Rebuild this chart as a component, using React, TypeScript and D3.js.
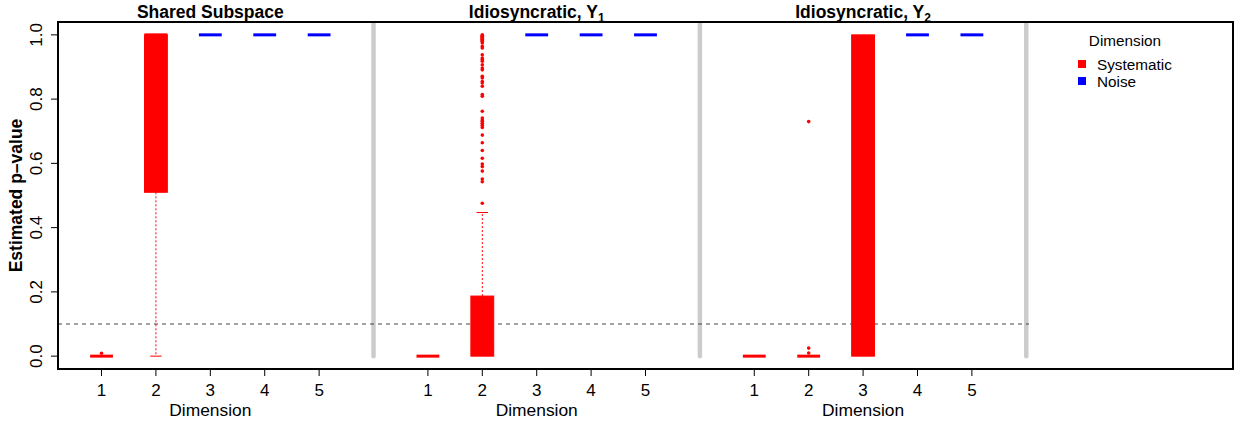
import React from 'react';
import * as d3 from 'd3';

const width = 1235;
const height = 425;
const margin = { top: 22, right: 2, bottom: 56, left: 58 };

const dims = [1, 2, 3, 4, 5];
const panelTitles = ['Shared Subspace', 'Idiosyncratic, Y', 'Idiosyncratic, Y'];
const panelSubs = ['', '1', '2'];
const systematicCount = [2, 2, 3];
const yTicks = [0, 0.2, 0.4, 0.6, 0.8, 1.0];
const threshold = 0.1;

// [lower whisker, Q1, median, Q3, upper whisker] per dimension
const sharedStats = [
  [0, 0, 0, 0, 0],
  [0, 0.51, 1, 1, 1],
  [1, 1, 1, 1, 1],
  [1, 1, 1, 1, 1],
  [1, 1, 1, 1, 1],
];
const y1Stats = [
  [0, 0, 0, 0, 0],
  [0, 0, 0.02, 0.187, 0.447],
  [1, 1, 1, 1, 1],
  [1, 1, 1, 1, 1],
  [1, 1, 1, 1, 1],
];
const y2Stats = [
  [0, 0, 0, 0, 0],
  [0, 0, 0, 0, 0],
  [0, 0, 0.99, 1, 1],
  [1, 1, 1, 1, 1],
  [1, 1, 1, 1, 1],
];

const sharedOutliers = [[0.009], [], [], [], []];
const y1Outliers = [
  [],
  [1.0, 0.998, 0.996, 0.994, 0.992, 0.99, 0.988, 0.986, 0.984, 0.982, 0.98, 0.975,
    0.964, 0.959, 0.938, 0.928, 0.923, 0.918, 0.907, 0.897, 0.891, 0.871, 0.866,
    0.855, 0.85, 0.84, 0.814, 0.809, 0.762, 0.741, 0.735, 0.731, 0.725, 0.719,
    0.712, 0.688, 0.664, 0.64, 0.616, 0.598, 0.59, 0.576, 0.551, 0.543, 0.476],
  [],
  [],
  [],
];
const y2Outliers = [[], [0.73, 0.025, 0.01], [], [], []];

const panelStats = [sharedStats, y1Stats, y2Stats];
const panelOutliers = [sharedOutliers, y1Outliers, y2Outliers];

const font = 'Liberation Sans, Arial, Helvetica, sans-serif';
const boxHalf = 0.21;

const App = () => {
  const { top, right, bottom, left } = margin;
  const x = d3.scaleLinear().domain([0.2, 21.8]).range([left, width - right]);
  const y = d3.scaleLinear().domain([-0.04, 1.04]).range([height - bottom, top]);
  const x0 = x.range()[0];
  const x1 = x.range()[1];
  const y0 = y.range()[0];
  const y1 = y.range()[1];

  return (
    <svg width={width} height={height} style={{ position: 'absolute', left: 0, top: 0 }} fontFamily={font}>
      <rect width={width} height={height} fill="white" />
      <defs>
        <clipPath id="plotclip">
          <rect x={x0} y={y1} width={x1 - x0} height={y0 - y1} />
        </clipPath>
      </defs>

      <g clipPath="url(#plotclip)">
        {/* separators */}
        {[6, 12, 18].map(p => (
          <line key={p} x1={x(p)} x2={x(p)} y1={y(0)} y2={y(1.06)}
            stroke="#cccccc" strokeWidth={4.5} strokeLinecap="round" />
        ))}
        <line x1={x0} x2={x(18.05)} y1={y(threshold)} y2={y(threshold)}
          stroke="#444" strokeDasharray="4,4" />

        {panelStats.map((stats, i) => stats.map((s, j) => {
          const p = i * 6 + dims[j];
          const color = j < systematicCount[i] ? '#ff0000' : '#0000ff';
          const [lw, q1, med, q3, uw] = s;
          return (
            <g key={`${i}-${j}`}>
              {uw > q3 && (
                <>
                  <line x1={x(p)} x2={x(p)} y1={y(q3)} y2={y(uw)} stroke={color} strokeDasharray="2,2" />
                  <line x1={x(p - boxHalf / 2)} x2={x(p + boxHalf / 2)} y1={y(uw)} y2={y(uw)} stroke={color} />
                </>
              )}
              {lw < q1 && (
                <>
                  <line x1={x(p)} x2={x(p)} y1={y(q1)} y2={y(lw)} stroke={color} strokeDasharray="2,2" />
                  <line x1={x(p - boxHalf / 2)} x2={x(p + boxHalf / 2)} y1={y(lw)} y2={y(lw)} stroke={color} />
                </>
              )}
              <rect x={x(p - boxHalf)} y={y(q3)} width={x(p + boxHalf) - x(p - boxHalf)}
                height={y(q1) - y(q3)} fill={color} stroke={color} />
              <line x1={x(p - boxHalf)} x2={x(p + boxHalf)} y1={y(med)} y2={y(med)}
                stroke={color} strokeWidth={3} />
              {panelOutliers[i][j].map((v, k) => (
                <circle key={k} cx={x(p)} cy={y(v)} r={1.8} fill={color} />
              ))}
            </g>
          );
        }))}
      </g>

      {/* frame */}
      <rect x={x0} y={y1} width={x1 - x0} height={y0 - y1} fill="none" stroke="black" strokeWidth={2} />

      {/* y axis */}
      {yTicks.map(t => (
        <g key={t}>
          <line x1={x0 - 7} x2={x0} y1={y(t)} y2={y(t)} stroke="black" />
          <text transform={`translate(42, ${y(t)}) rotate(-90)`} textAnchor="middle" fontSize={17}>
            {t.toFixed(1)}
          </text>
        </g>
      ))}
      <text transform={`translate(22, ${(y0 + y1) / 2}) rotate(-90)`} textAnchor="middle"
        fontSize={17.5} fontWeight="bold">
        Estimated p–value
      </text>

      {/* x axis per panel */}
      {panelTitles.map((title, i) => (
        <g key={i}>
          {dims.map(d => (
            <g key={d}>
              <line x1={x(i * 6 + d)} x2={x(i * 6 + d)} y1={y0} y2={y0 + 7} stroke="black" />
              <text x={x(i * 6 + d)} y={396} textAnchor="middle" fontSize={17}>{d}</text>
            </g>
          ))}
          <text x={x(i * 6 + 3)} y={416} textAnchor="middle" fontSize={17.4}>Dimension</text>
          <text x={x(i * 6 + 3)} y={17.5} textAnchor="middle" fontSize={17.5} fontWeight="bold">
            {title}
            {panelSubs[i] && <tspan fontSize={12} dy={4}>{panelSubs[i]}</tspan>}
          </text>
        </g>
      ))}

      {/* legend */}
      <text x={1125} y={45.5} textAnchor="middle" fontSize={15.3}>Dimension</text>
      <rect x={1078} y={60} width={8} height={8} fill="#ff0000" />
      <text x={1097} y={69.5} fontSize={15.3}>Systematic</text>
      <rect x={1078} y={77} width={8} height={8} fill="#0000ff" />
      <text x={1097} y={87} fontSize={15.3}>Noise</text>
    </svg>
  );
};

export default App;
